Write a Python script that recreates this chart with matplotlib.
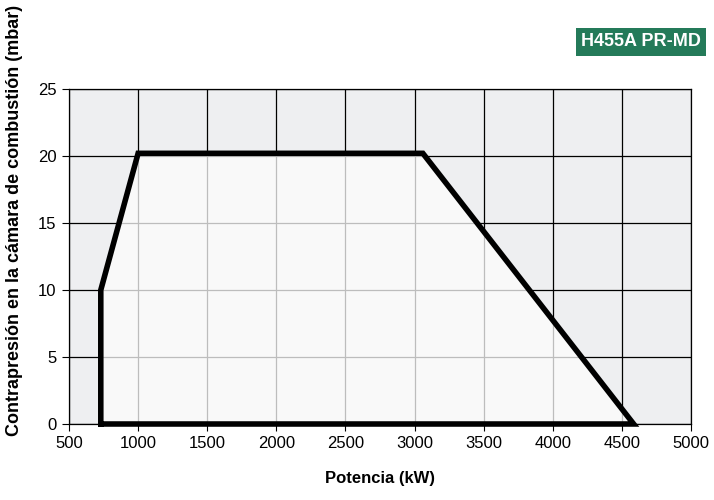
import matplotlib
matplotlib.use("Agg")
import matplotlib.pyplot as plt
from matplotlib.patches import Polygon

plt.rcParams['font.family'] = ['Liberation Sans', 'DejaVu Sans']

# working field outline (kW, mbar)
potencia = [730, 730, 1000, 3060, 4585]
presion = [0, 10, 20.2, 20.2, 0]

x_ticks = [500, 1000, 1500, 2000, 2500, 3000, 3500, 4000, 4500, 5000]
y_ticks = [0, 5, 10, 15, 20, 25]
model = "H455A PR-MD"

fig = plt.figure(figsize=(7.14, 5), dpi=100)
ax = fig.add_axes([69 / 714, 76 / 500, 622 / 714, 335 / 500])
ax.set_facecolor('#eeeff1')
ax.set_xlim(500, 5000)
ax.set_ylim(0, 25)
ax.set_xticks(x_ticks)
ax.set_yticks(y_ticks)
ax.tick_params(direction='out', length=5, width=0.8, labelsize=12, pad=4)

# black grid everywhere
for xv in x_ticks:
    ax.axvline(xv, color='black', lw=0.9, zorder=1)
for yv in y_ticks:
    ax.axhline(yv, color='black', lw=0.9, zorder=1)

# field fill
pts = list(zip(potencia, presion))
poly = Polygon(pts, closed=True, facecolor='#f9f9f9', edgecolor='none', zorder=2)
ax.add_patch(poly)

# light grid inside the field
for xv in x_ticks:
    ln = ax.axvline(xv, color='#bdbdbd', lw=0.9, zorder=3)
    ln.set_clip_path(poly)
for yv in y_ticks:
    ln = ax.axhline(yv, color='#bdbdbd', lw=0.9, zorder=3)
    ln.set_clip_path(poly)

# outline
ax.plot(potencia + [potencia[0]], presion + [presion[0]], color='black', lw=4,
        solid_joinstyle='miter', zorder=5, clip_on=False)

for s in ax.spines.values():
    s.set_color('black')
    s.set_linewidth(0.9)
    s.set_zorder(4)

ax.set_xlabel('Potencia (kW)', fontsize=12, fontweight='bold', labelpad=14)
fig.text(15 / 714, 1 - 220 / 500, 'Contrapresión en la cámara de combustión (mbar)',
         rotation=90, ha='center', va='center', fontsize=13, fontweight='bold')

# model badge
fig.text(701 / 714, 1 - 42 / 500, model, ha='right', va='center', color='white',
         fontsize=13, fontweight='bold',
         bbox=dict(boxstyle='square,pad=0.3', facecolor='#247a59', edgecolor='none'))

fig.savefig('out.png', dpi=100)
